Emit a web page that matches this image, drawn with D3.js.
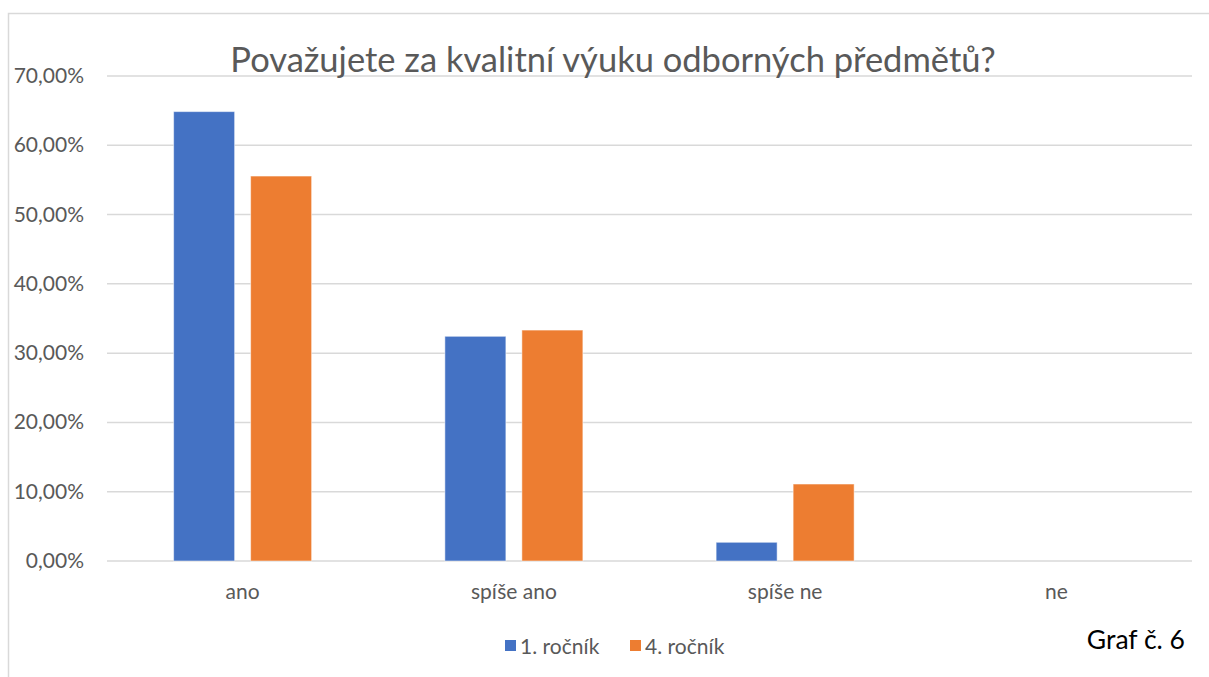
<!DOCTYPE html>
<html lang="cs">
<head>
<meta charset="UTF-8">
<title>Graf 6</title>
<script src="https://d3js.org/d3.v7.min.js"></script>
<style>
  body { margin: 0; background: #fff; }
  svg { display: block; font-family: Lato, "Open Sans", sans-serif; }
</style>
</head>
<body>
<script>
// data
const categories = ["ano", "spíše ano", "spíše ne", "ne"];
const seriesNames = ["1. ročník", "4. ročník"];
const rocnik1 = [0.6486, 0.3243, 0.0270, 0];
const rocnik4 = [0.5556, 0.3333, 0.1111, 0];
const yTicks = [0, 0.1, 0.2, 0.3, 0.4, 0.5, 0.6, 0.7];
const colors = ["#4472C4", "#ED7D31"];

const w = 1209, h = 677;
const padLeft = 107, padRight = 1192, padTop = 76, padBottom = 561;

const svg = d3.select("body").append("svg")
  .attr("width", w).attr("height", h);

// outer chart border
svg.append("rect")
  .attr("x", 8.5).attr("y", 13.5)
  .attr("width", 1210).attr("height", 700)
  .attr("fill", "none").attr("stroke", "#d9d9d9").attr("stroke-width", 1.5);

const x = d3.scaleBand().domain(categories).range([padLeft, padRight]);
const y = d3.scaleLinear().domain([0, 0.7]).range([padBottom, padTop]);

// gridlines
svg.selectAll("line.grid")
  .data(yTicks).enter().append("line")
  .attr("class", "grid")
  .attr("x1", padLeft).attr("x2", padRight)
  .attr("y1", d => y(d)).attr("y2", d => y(d))
  .attr("stroke", "#d9d9d9").attr("stroke-width", 1.5);

// y labels
const fmt = d => d3.format(".2f")(d * 100).replace(".", ",") + "%";
svg.selectAll("text.ytick")
  .data(yTicks).enter().append("text")
  .attr("class", "ytick")
  .attr("x", 84).attr("y", d => y(d) + 7)
  .attr("text-anchor", "end")
  .attr("fill", "#595959").style("font-size", "21px")
  .text(fmt);

// bars
const barW = 61, gap = 16;
const series = [rocnik1, rocnik4];
series.forEach((vals, s) => {
  svg.selectAll("rect.s" + s)
    .data(vals).enter().append("rect")
    .attr("class", "s" + s)
    .attr("x", (d, i) => x(categories[i]) + x.bandwidth() / 2 - barW - gap / 2 + s * (barW + gap))
    .attr("width", barW)
    .attr("y", d => y(d))
    .attr("height", d => y(0) - y(d))
    .attr("fill", colors[s])
    .attr("stroke", d => d > 0 ? "#fff" : "none").attr("stroke-opacity", 0.5);
});

// x labels
svg.selectAll("text.xtick")
  .data(categories).enter().append("text")
  .attr("class", "xtick")
  .attr("x", d => x(d) + x.bandwidth() / 2)
  .attr("y", 599)
  .attr("text-anchor", "middle")
  .attr("fill", "#595959").style("font-size", "21px")
  .text(d => d);

// title
svg.append("text")
  .attr("x", 613).attr("y", 72)
  .attr("text-anchor", "middle")
  .attr("fill", "#595959").style("font-size", "34.5px")
  .text("Považujete za kvalitní výuku odborných předmětů?");

// legend
const legX = [505, 630];
seriesNames.forEach((name, s) => {
  svg.append("rect")
    .attr("x", legX[s]).attr("y", 640)
    .attr("width", 11).attr("height", 11)
    .attr("fill", colors[s]);
  svg.append("text")
    .attr("x", legX[s] + 15).attr("y", 654)
    .attr("fill", "#595959").style("font-size", "21px")
    .text(name);
});

// graf label
svg.append("text")
  .attr("x", 1185).attr("y", 649)
  .attr("text-anchor", "end")
  .attr("fill", "#000").style("font-size", "26.5px")
  .text("Graf č. 6");
</script>
</body>
</html>
